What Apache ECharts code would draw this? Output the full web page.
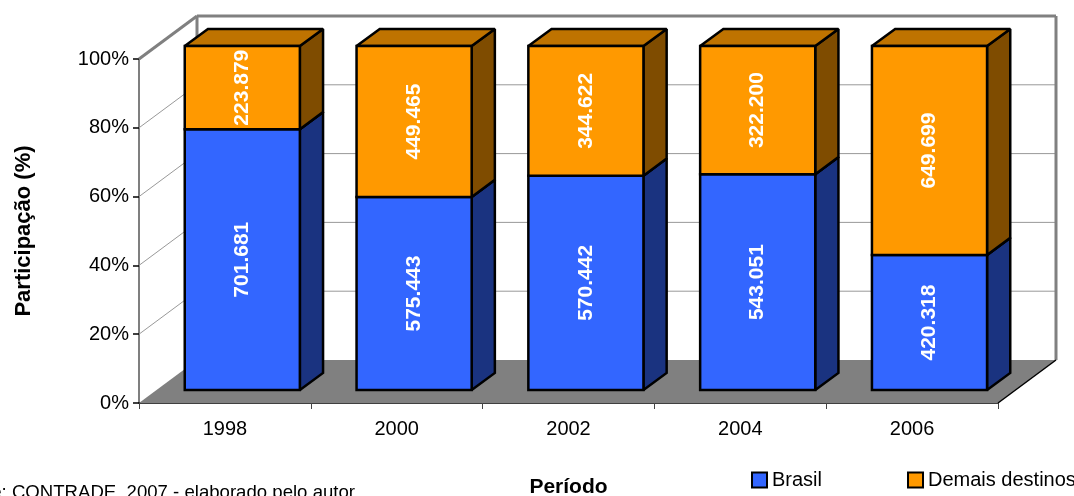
<!DOCTYPE html>
<html>
<head>
<meta charset="utf-8">
<style>
html,body{margin:0;padding:0;background:#fff;overflow:hidden;}
#chart{width:1074px;height:496px;}
</style>
<script src="https://cdn.jsdelivr.net/npm/echarts@6/dist/echarts.min.js"></script>
</head>
<body>
<div id="chart"></div>
<script>
var periodos = ['1998','2000','2002','2004','2006'];
var brasil = [701681,575443,570442,543051,420318];
var demais = [223879,449465,344622,322200,649699];
var yTicks = [20,40,60,80];

var FONT = '"Liberation Sans",Arial,sans-serif';
// profundidade do grafico 3D, em pixels
var DX = 58, DY = 43;

function pct(i,v){
    return v/(brasil[i]+demais[i])*100;
}
function fmt(v){
    return String(v).replace(/(\d)(\d{3})$/,'$1.$2');
}
function poly(points,fill,stroke,lw){
    return {type:'polygon',shape:{points:points},style:{fill:fill,stroke:stroke,lineWidth:lw,lineJoin:'miter',miterLimit:1.5}};
}
function line(a,b,color,lw){
    return {type:'line',shape:{x1:a[0],y1:a[1],x2:b[0],y2:b[1]},style:{stroke:color,lineWidth:lw}};
}

// uma barra: frente, topo e lateral + valor na vertical
function renderBar(front,top,side){
    return function(params,api){
        var i = api.value(0);
        var catW = api.size([1,0])[0];
        var c0 = api.coord([i,api.value(1)]);
        var c1 = api.coord([i,api.value(2)]);
        var w = catW*0.67;
        var x0 = c0[0]-w/2+DX*0.3, x1 = x0+w;
        var y0 = c0[1]-DY*0.3, y1 = c1[1]-DY*0.3;
        var ox = DX*0.4, oy = DY*0.4;
        return {type:'group',children:[
            poly([[x1,y0],[x1+ox,y0-oy],[x1+ox,y1-oy],[x1,y1]],side,'#000',2.5),
            poly([[x0,y1],[x1,y1],[x1+ox,y1-oy],[x0+ox,y1-oy]],top,'#000',2.5),
            poly([[x0,y0],[x1,y0],[x1,y1],[x0,y1]],front,'#000',2.5),
            {type:'text',x:(x0+x1)/2,y:(y0+y1)/2,rotation:Math.PI/2,
                style:{text:fmt(api.value(3)),fill:'#fff',font:'bold 21px '+FONT,align:'center',verticalAlign:'middle'}}
        ]};
    };
}

// paredes e piso atras das barras
function renderBack(params,api){
    var n = periodos.length;
    var catW = api.size([1,0])[0];
    var b0 = api.coord([0,0]), t0 = api.coord([0,100]);
    var l = b0[0]-catW/2, r = l+catW*n;
    var bottom = b0[1], top = t0[1];
    var kids = [];
    kids.push(poly([[l,bottom],[l+DX,bottom-DY],[r+DX,bottom-DY],[r,bottom]],'#808080','none',0));
    yTicks.forEach(function(t){
        var y = api.coord([0,t])[1];
        kids.push(line([l,y],[l+DX,y-DY],'#999',1));
        kids.push(line([l+DX,y-DY],[r+DX,y-DY],'#999',1));
    });
    kids.push(line([l,top],[l+DX,top-DY],'#808080',3));
    kids.push(line([l+DX,top-DY],[r+DX,top-DY],'#808080',3));
    kids.push(line([r+DX,top-DY],[r+DX,bottom-DY],'#808080',3));
    kids.push(line([l+DX,top-DY],[l+DX,bottom-DY],'#808080',3));
    kids.push(line([r,bottom],[r+DX,bottom-DY],'#000',1.5));
    return {type:'group',children:kids};
}

var brasilData = periodos.map(function(p,i){
    return [i,0,pct(i,brasil[i]),brasil[i]];
});
var demaisData = periodos.map(function(p,i){
    return [i,pct(i,brasil[i]),100,demais[i]];
});

var myChart = echarts.init(document.getElementById('chart'));
var option = {
    animation:false,
    backgroundColor:'#fff',
    textStyle:{fontFamily:FONT},
    grid:{left:139,right:76,top:59,bottom:93,outerBoundsMode:'none'},
    legend:{
        data:['Brasil','Demais destinos'],
        left:746,top:465,width:500,
        itemWidth:15,itemHeight:15,itemGap:85,
        icon:'rect',
        itemStyle:{borderColor:'#000',borderWidth:2},
        textStyle:{fontSize:20,color:'#000',fontFamily:FONT}
    },
    xAxis:{
        type:'category',
        data:periodos,
        name:'Período',
        nameLocation:'middle',
        nameGap:74,
        nameTextStyle:{fontSize:21,fontWeight:'bold',color:'#000',fontFamily:FONT},
        axisLine:{lineStyle:{color:'#000',width:1.5}},
        axisTick:{show:true,length:6,lineStyle:{color:'#444',width:1}},
        axisLabel:{fontSize:20,color:'#000',margin:16,fontFamily:FONT}
    },
    yAxis:{
        type:'value',
        min:0,max:100,interval:20,
        name:'Participação (%)',
        nameLocation:'middle',
        nameGap:104,
        nameTextStyle:{fontSize:22,fontWeight:'bold',color:'#000',fontFamily:FONT},
        axisLine:{show:true,lineStyle:{color:'#555',width:1.5}},
        axisTick:{show:true,length:6,lineStyle:{color:'#000',width:1.5}},
        axisLabel:{fontSize:20,color:'#000',margin:10,formatter:'{value}%',fontFamily:FONT},
        splitLine:{show:false}
    },
    graphic:[{
        type:'text',left:-46,top:483,
        style:{text:'Fonte: CONTRADE, 2007 - elaborado pelo autor',fill:'#000',font:'18.6px '+FONT}
    }],
    series:[
        {name:'fundo',type:'custom',z:1,silent:true,renderItem:renderBack,data:[[0,0]],encode:{x:0,y:1}},
        {name:'Brasil',type:'custom',z:2,itemStyle:{color:'#3366FF'},
            renderItem:renderBar('#3366FF','#264DBF','#1A3380'),data:brasilData,encode:{x:0,y:[1,2]}},
        {name:'Demais destinos',type:'custom',z:3,itemStyle:{color:'#FF9900'},
            renderItem:renderBar('#FF9900','#BF7300','#7F4C00'),data:demaisData,encode:{x:0,y:[1,2]}}
    ]
};
myChart.setOption(option,true);
</script>
</body>
</html>
